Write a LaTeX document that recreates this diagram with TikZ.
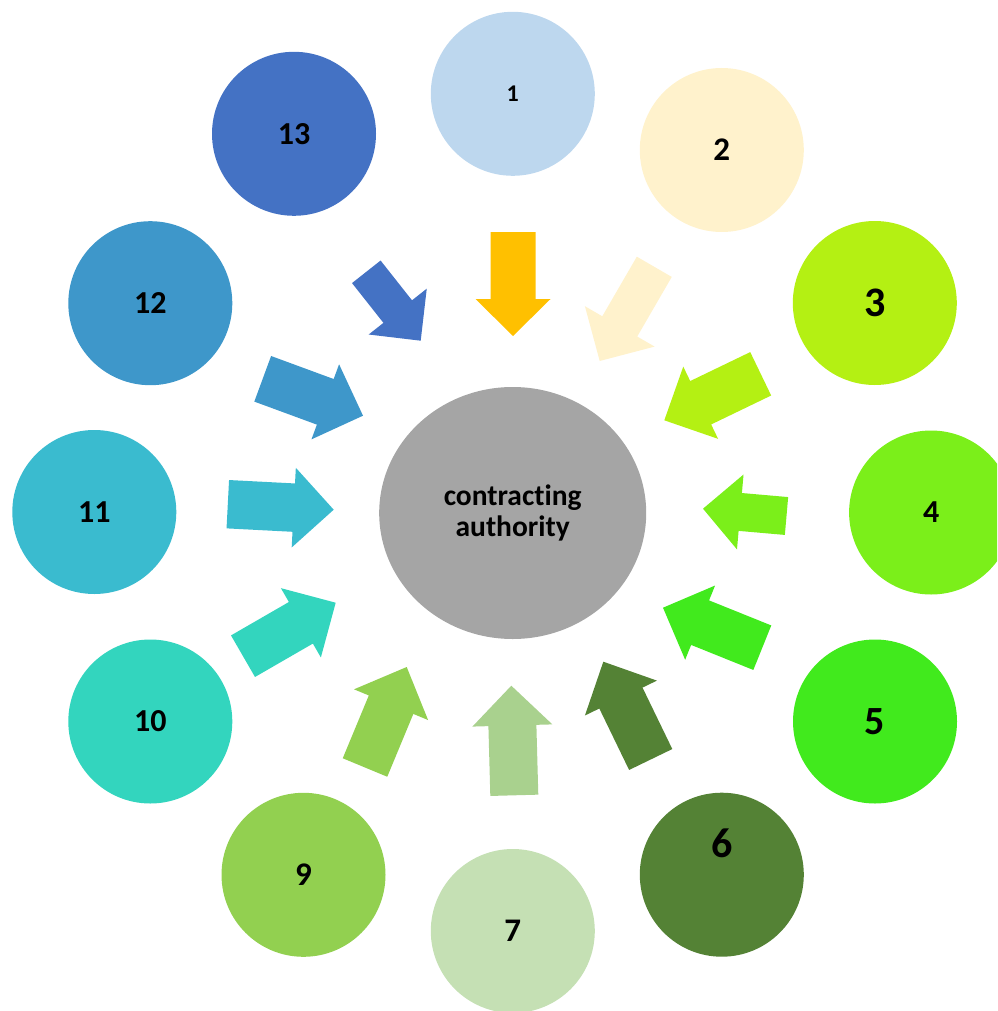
\documentclass[tikz,border=0pt]{standalone}
\usepackage{fontspec}
\setmainfont{Carlito}[Ligatures={NoCommon}]
\usetikzlibrary{calc,shapes.geometric}
\definecolor{cOne}{HTML}{BDD7EE}
\definecolor{cTwo}{HTML}{FFF2CC}
\definecolor{cThree}{HTML}{B4F013}
\definecolor{cFour}{HTML}{7BEF1A}
\definecolor{cFive}{HTML}{41EA1D}
\definecolor{cSix}{HTML}{548235}
\definecolor{cSeven}{HTML}{C5E0B4}
\definecolor{cSevenA}{HTML}{A9D18E}
\definecolor{cNine}{HTML}{92D050}
\definecolor{cTen}{HTML}{33D5BE}
\definecolor{cEleven}{HTML}{3ABBCF}
\definecolor{cTwelve}{HTML}{3E97CA}
\definecolor{cThirteen}{HTML}{4472C4}
\definecolor{cOrange}{HTML}{FFC000}
\definecolor{cGray}{HTML}{A5A5A5}
\tikzset{
  bubble/.style={circle, minimum size=164pt, inner sep=0pt, text=black},
  numfont/.style={font=\bfseries\fontsize{#1}{#1}\selectfont},
  hub/.style={ellipse, minimum width=267pt, minimum height=252pt, inner sep=0pt, fill=cGray},
}
% #1 colour, #2 tail coordinate, #3 tip coordinate, #4 half shaft width, #5 half head width, #6 head length
\newcommand{\blockarrow}[6]{%
  \coordinate (#2-b) at ($(#3)!#6!(#2)$);
  \fill[#1] ($(#2)!#4!90:(#3)$) -- ($(#2-b)!#4!90:(#3)$) -- ($(#2-b)!#5!90:(#3)$) -- (#3)
    -- ($(#2-b)!#5!-90:(#3)$) -- ($(#2-b)!#4!-90:(#3)$) -- ($(#2)!#4!-90:(#3)$) -- cycle;
}
\begin{document}
\begin{tikzpicture}[x=1pt,y=-1pt]
\useasboundingbox (0,0) rectangle (997,1011);
\clip (0,0) rectangle (997,1011);

% outer circles
\node[bubble, fill=cOne, numfont=24] (n1) at (512.8,93.8) {1};
\node[bubble, fill=cTwo, numfont=33] (n2) at (721.8,150) {2};
\node[bubble, fill=cThree, numfont=42] (n3) at (874.8,303) {3};
\node[bubble, fill=cFour, numfont=32] (n4) at (931.1,512.5) {4};
\node[bubble, fill=cFive, numfont=40] (n5) at (875,721.5) {5};
\node[bubble, fill=cSix, label={[numfont=42, yshift=31pt]center:6}] (n6) at (721.8,874.7) {};
\node[bubble, fill=cSeven, numfont=33] (n7) at (512.8,931) {7};
\node[bubble, fill=cNine, numfont=33] (n9) at (303.5,874.8) {9};
\node[bubble, fill=cTen, numfont=32] (n10) at (150.3,721.5) {10};
\node[bubble, fill=cEleven, numfont=32] (n11) at (94.3,512) {11};
\node[bubble, fill=cTwelve, numfont=32] (n12) at (150.3,303.2) {12};
\node[bubble, fill=cThirteen, numfont=32] (n13) at (294,133.8) {13};

% centre
\node[hub, align=center, font=\bfseries\fontsize{29.5}{31}\selectfont] (hub) at (512.7,513) {contracting\\authority};

% arrow tails and tips
\coordinate (t1) at (513,232);     \coordinate (p1) at (513,336);
\coordinate (t2) at (654.3,266.8); \coordinate (p2) at (599.7,361);
\coordinate (t3) at (760.7,373.8); \coordinate (p3) at (664.3,420.3);
\coordinate (t4) at (786.5,516);   \coordinate (p4) at (703,508.7);
\coordinate (t5) at (762.3,647.7); \coordinate (p5) at (663,607.7);
\coordinate (t6) at (650.7,759.5); \coordinate (p6) at (603.3,661.7);
\coordinate (t7) at (514.3,795.3); \coordinate (p7) at (511.3,685.7);
\coordinate (t9) at (365,767.5);   \coordinate (p9) at (406.7,667);
\coordinate (t10) at (243,656.2);  \coordinate (p10) at (335.7,602.7);
\coordinate (t11) at (227.8,504.2); \coordinate (p11) at (333.7,509.7);
\coordinate (t12) at (262.7,378.8); \coordinate (p12) at (363,415.7);
\coordinate (t13) at (366.3,271.8); \coordinate (p13) at (420.7,340.7);

\blockarrow{cOrange}{t1}{p1}{22.5pt}{37.5pt}{37pt}
\blockarrow{cTwo}{t2}{p2}{20.2pt}{40.3pt}{40pt}
\blockarrow{cThree}{t3}{p3}{24.1pt}{40.1pt}{40.4pt}
\blockarrow{cFour}{t4}{p4}{19pt}{37.6pt}{37.4pt}
\blockarrow{cFive}{t5}{p5}{24pt}{40pt}{40pt}
\blockarrow{cSix}{t6}{p6}{24pt}{40pt}{40.4pt}
\blockarrow{cSevenA}{t7}{p7}{24pt}{40pt}{39.8pt}
\blockarrow{cNine}{t9}{p9}{24.1pt}{40.1pt}{40.8pt}
\blockarrow{cTen}{t10}{p10}{24pt}{40pt}{40.2pt}
\blockarrow{cEleven}{t11}{p11}{24.2pt}{39.9pt}{40pt}
\blockarrow{cTwelve}{t12}{p12}{24.3pt}{40pt}{40.2pt}
\blockarrow{cThirteen}{t13}{p13}{18.2pt}{37pt}{37.1pt}
\end{tikzpicture}
\end{document}
